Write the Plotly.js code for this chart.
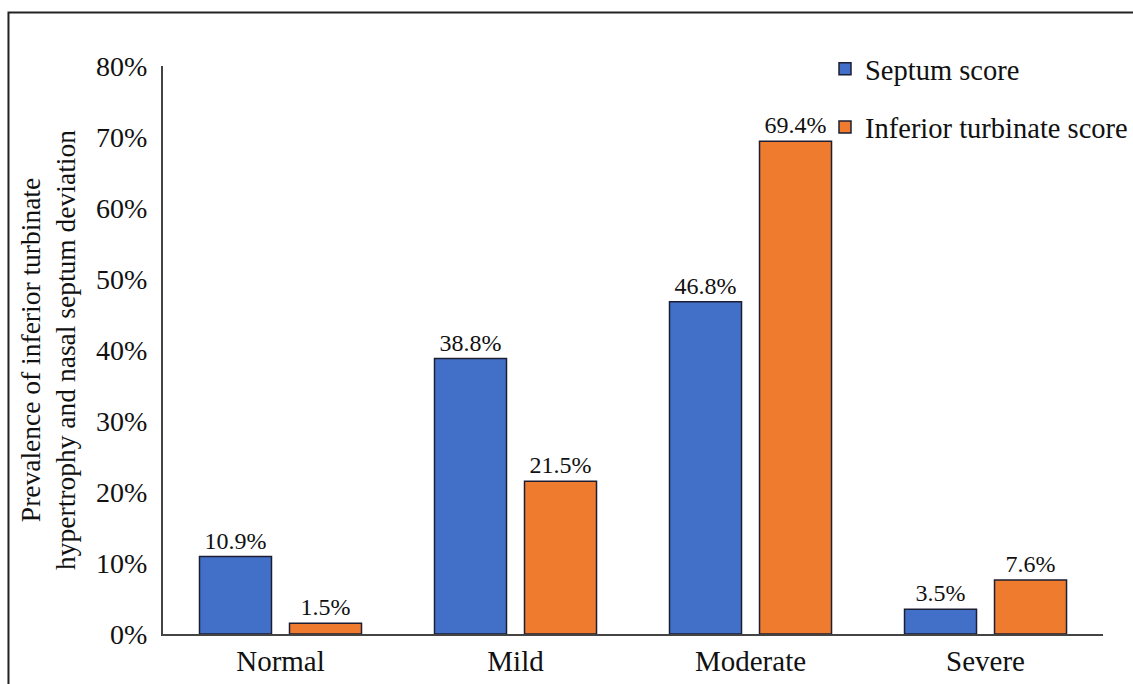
<!DOCTYPE html>
<html>
<head>
<meta charset="utf-8">
<script src="https://cdn.plot.ly/plotly-3.0.1.min.js"></script>
<style>
html,body{margin:0;padding:0;background:#fff;}
#chart{width:1133px;height:684px;}
</style>
</head>
<body>
<div id="chart"></div>
<script>
const categories = ["Normal", "Mild", "Moderate", "Severe"];
const septumScore = [10.9, 38.8, 46.8, 3.5];
const turbinateScore = [1.5, 21.5, 69.4, 7.6];
const seriesNames = ["Septum score", "Inferior turbinate score"];
const yTickVals = [0, 10, 20, 30, 40, 50, 60, 70, 80];
const yTickText = ["0%", "10%", "20%", "30%", "40%", "50%", "60%", "70%", "80%"];

const FONT = "Liberation Serif";
const fmt = v => v.toFixed(1) + "%";
const labelFont = {family: FONT, size: 24, color: "#111"};

const traces = [
  {
    type: "bar", name: seriesNames[0], x: categories, y: septumScore,
    text: septumScore.map(fmt), textposition: "outside", cliponaxis: false,
    textfont: labelFont, outsidetextfont: labelFont,
    marker: {color: "#4270C8", line: {color: "#1c1f33", width: 1.5}},
    legendgroup: "a", hoverinfo: "x+y"
  },
  {
    type: "bar", name: seriesNames[1], x: categories, y: turbinateScore,
    text: turbinateScore.map(fmt), textposition: "outside", cliponaxis: false,
    textfont: labelFont, outsidetextfont: labelFont,
    marker: {color: "#EF7B2F", line: {color: "#1c1f33", width: 1.5}},
    legendgroup: "b", hoverinfo: "x+y"
  }
];

const layout = {
  width: 1133, height: 684,
  margin: {l: 163, r: 0, t: 66, b: 50},
  paper_bgcolor: "#fff", plot_bgcolor: "#fff",
  font: {family: FONT, size: 28, color: "#111"},
  barmode: "group", bargap: 0.234, bargroupgap: 0.2,
  showlegend: true,
  legend: {
    x: 1, y: 1.039, xanchor: "right", yanchor: "top",
    font: {family: FONT, size: 28.5, color: "#111"},
    traceorder: "grouped", tracegroupgap: 18,
    bgcolor: "rgba(0,0,0,0)"
  },
  xaxis: {
    domain: [0, 0.9691],
    showline: true, linecolor: "#444", linewidth: 2,
    ticks: "", showgrid: false, zeroline: false,
    tickfont: {family: FONT, size: 29, color: "#111"}
  },
  yaxis: {
    range: [0, 80], tickvals: yTickVals, ticktext: yTickText,
    showline: true, linecolor: "#444", linewidth: 2,
    ticks: "", showgrid: false, zeroline: false, ticklabelstandoff: 8,
    tickfont: {family: FONT, size: 28, color: "#111"},
    title: {
      text: "Prevalence of inferior turbinate<br>hypertrophy and nasal septum deviation",
      font: {family: FONT, size: 27.5, color: "#111"}, standoff: 12
    }
  },
  shapes: [
    {type: "rect", xref: "paper", yref: "paper",
     x0: -0.1593, x1: 1.05, y0: -0.12, y1: 1.0942,
     line: {color: "#222", width: 2}, fillcolor: "rgba(0,0,0,0)", layer: "below"}
  ]
};

Plotly.newPlot("chart", traces, layout, {displayModeBar: false, staticPlot: true});
</script>
</body>
</html>
